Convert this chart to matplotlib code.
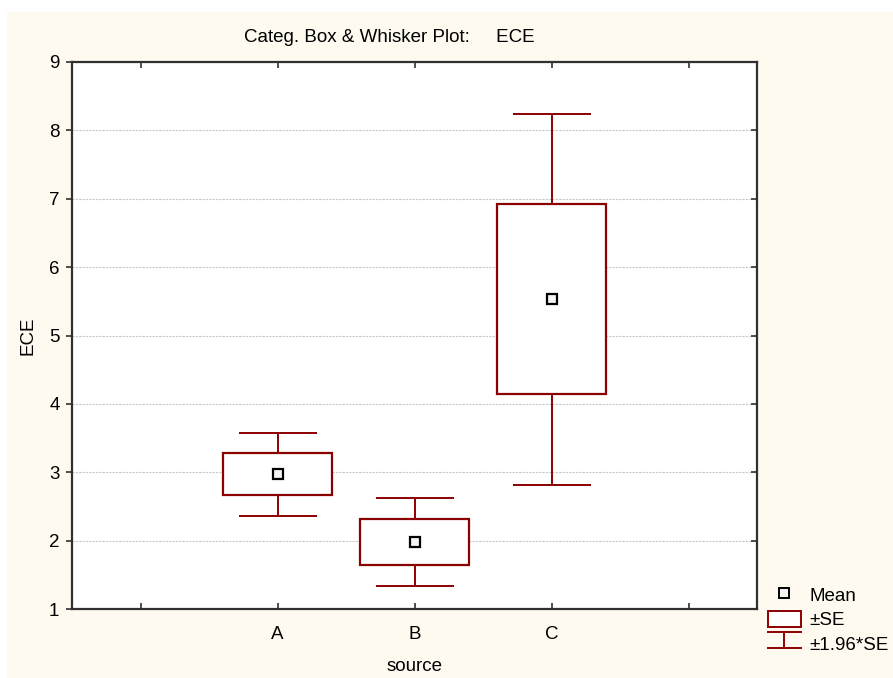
import numpy as np
import matplotlib
matplotlib.use("Agg")
import matplotlib.pyplot as plt
from matplotlib.patches import Rectangle
from matplotlib.lines import Line2D
from matplotlib.legend_handler import HandlerBase

# data
categories = ["A", "B", "C"]
means = [2.97, 1.98, 5.53]
se_low = [2.66, 1.65, 4.15]
se_high = [3.28, 2.31, 6.92]
ci_low = [2.36, 1.34, 2.82]
ci_high = [3.58, 2.63, 8.24]

RED = "#8b0000"
CREAM = "#fffaf0"

plt.rcParams["font.family"] = ["Liberation Sans", "DejaVu Sans"]
plt.rcParams["font.size"] = 13.5


class WhiskerHandler(HandlerBase):
    # legend key drawn like a whisker with caps
    def create_artists(self, legend, orig, xd, yd, width, height, fontsize, trans):
        xm = xd + width / 2
        lines = [
            Line2D([xm, xm], [yd, yd + height]),
            Line2D([xd, xd + width], [yd, yd]),
            Line2D([xd, xd + width], [yd + height, yd + height]),
        ]
        for ln in lines:
            ln.set_color(RED)
            ln.set_linewidth(1.4)
            ln.set_transform(trans)
        return lines


fig = plt.figure(figsize=(8.93, 6.78), dpi=100, facecolor="white")
fig.patches.append(Rectangle((7 / 893, 0), 1, 1 - 12 / 678, transform=fig.transFigure,
                             facecolor=CREAM, edgecolor="none", zorder=-10))

ax = fig.add_axes([72 / 893, 1 - 609 / 678, 685 / 893, 547 / 678])
ax.set_facecolor("white")

x = np.arange(1, len(categories) + 1)
means = np.array(means)
se_low, se_high = np.array(se_low), np.array(se_high)
ci_low, ci_high = np.array(ci_low), np.array(ci_high)

# whiskers (behind the boxes)
ax.errorbar(x, means, yerr=[means - ci_low, ci_high - means], fmt="none",
            ecolor=RED, elinewidth=1.4, capsize=28, capthick=1.4, zorder=2)
# boxes
ax.bar(x, se_high - se_low, bottom=se_low, width=0.8, color="white",
       edgecolor=RED, linewidth=1.6, zorder=3)
# means
ax.plot(x, means, "s", ms=7, mfc="#f4f4f4", mec="black", mew=1.6, zorder=4)

ax.set_xlim(-0.5, 4.5)
ax.set_ylim(1, 9)
ax.set_xticks(np.arange(0, 5))
ax.set_xticklabels([""] + categories + [""])
ax.set_yticks(np.arange(1, 10))

ax.yaxis.grid(True, color="#c8c8c8", linestyle=(0, (2, 1)), linewidth=0.8)
ax.set_axisbelow(True)

for s in ax.spines.values():
    s.set_color("#303030")
    s.set_linewidth(1.6)

ax.tick_params(axis="x", direction="in", length=4, width=1.2, top=True, pad=12, color="#303030")
ax.tick_params(axis="y", direction="out", length=4, width=1.2, color="#303030", pad=5)
ax.tick_params(axis="y", which="both", right=True)
for t in ax.yaxis.get_ticklines()[1::2]:
    t.set_marker(0)  # right side ticks pointing inward

ax.set_xlabel("source", labelpad=11)
ax.set_ylabel("ECE", labelpad=9)

fig.text(389 / 893, 1 - 38 / 678, "Categ. Box & Whisker Plot:     ECE",
         ha="center", va="center", fontsize=13.5)

h_mean = Line2D([], [], marker="s", ls="none", ms=7, mfc="#f4f4f4", mec="black", mew=1.4)
h_se = Rectangle((0, 0), 1, 1, facecolor="white", edgecolor=RED, linewidth=1.4)
h_ci = Line2D([], [])
fig.legend([h_mean, h_se, h_ci], ["Mean", "±SE", "±1.96*SE"],
           handler_map={h_ci: WhiskerHandler()},
           loc="upper left", bbox_to_anchor=(768 / 893, 1 - 586 / 678),
           frameon=False, borderpad=0, borderaxespad=0, handlelength=1.75,
           handleheight=0.95, handletextpad=0.45, labelspacing=0.33, fontsize=13.5)

fig.savefig("out.png", dpi=100, facecolor="white")
